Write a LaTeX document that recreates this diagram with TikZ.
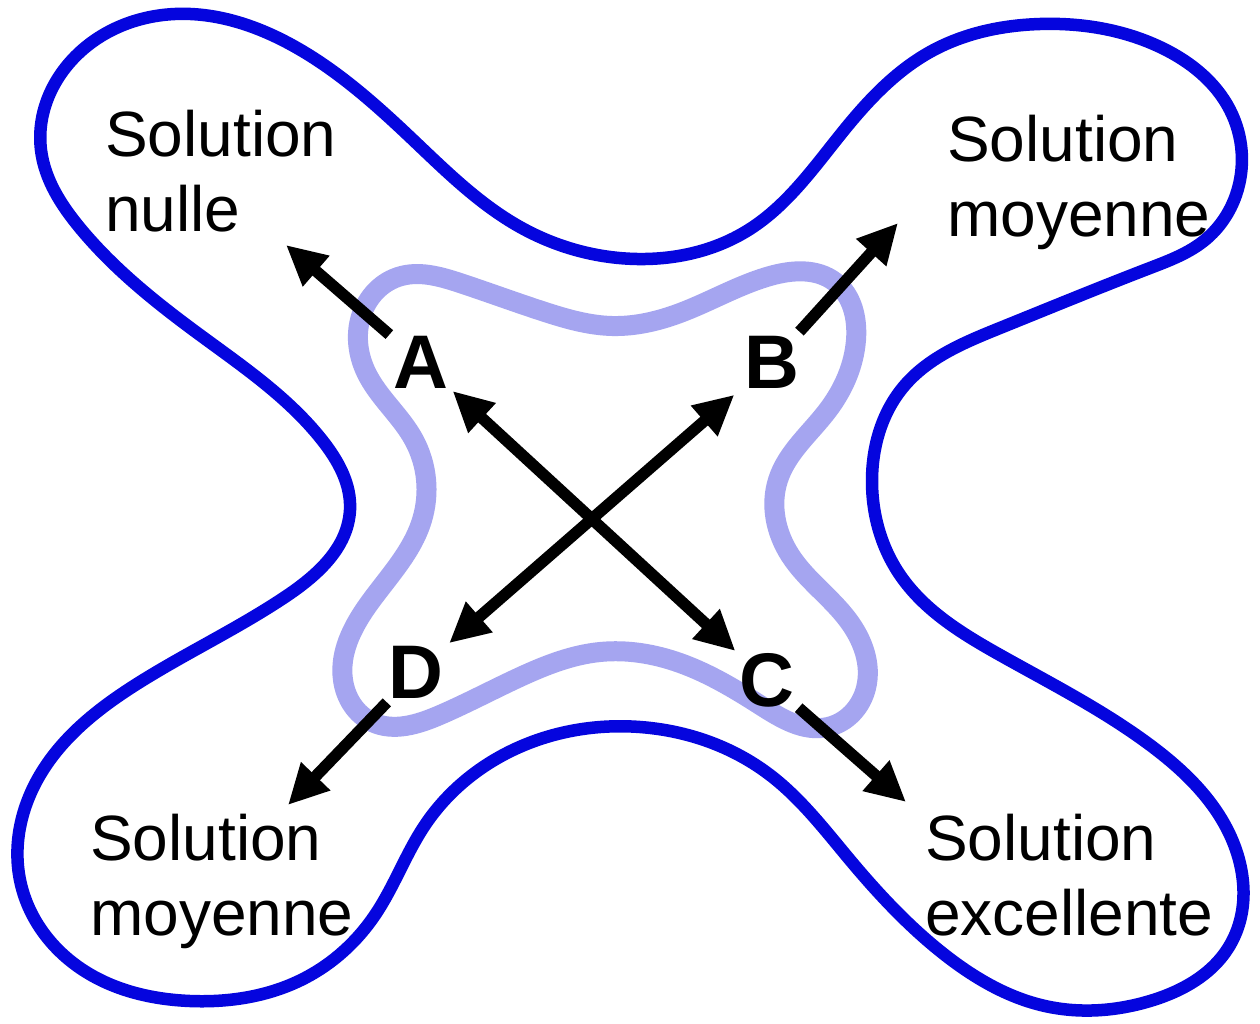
\documentclass[tikz,border=0pt]{standalone}
\usepackage{fontspec}
\setmainfont{Liberation Sans}
\usetikzlibrary{arrows.meta,hobby}
\definecolor{outerblue}{RGB}{5,5,222}
\definecolor{innerblue}{RGB}{165,165,240}
\tikzset{
  outerline/.style={draw=outerblue, line width=12.5pt},
  innerline/.style={draw=innerblue, line width=20pt},
  arr/.style={line width=11.5pt, black, -{Triangle[length=40pt,width=38pt]}},
  dblarr/.style={line width=11.5pt, black, {Triangle[length=40pt,width=38pt]}-{Triangle[length=40pt,width=38pt]}},
  letter/.style={font=\fontsize{76}{80}\selectfont\bfseries, inner sep=4pt},
  lbl/.style={font=\fontsize{64}{75}\selectfont, anchor=base west, inner sep=0pt}
}
\begin{document}
\begin{tikzpicture}[x=1pt,y=-1pt]
\useasboundingbox (0,0) rectangle (1260,1024);
\fill[white] (0,0) rectangle (1260,1024);
% outer blob
\draw[outerline, use Hobby shortcut, closed=true]
 (41,150) .. (80,52) .. (175,14) .. (290,44) .. (410,137) .. (520,227) .. (637,259)
 .. (750,229) .. (845,129) .. (930,52) .. (1040,24) .. (1160,47) .. (1230,110) .. (1236,195)
 .. (1205,240) .. (1150,268) .. (1000,328) .. (905,385) .. (872,480) .. (900,575) .. (1000,655)
 .. (1150,745) .. (1230,835) .. (1230,945) .. (1150,1001) .. (1045,1006) .. (945,955) .. (850,860)
 .. (770,775) .. (640,727) .. (505,754) .. (425,825) .. (375,915) .. (305,978) .. (190,1001)
 .. (80,968) .. (20,880) .. (40,775) .. (140,682) .. (285,597) .. (350,510) .. (322,440)
 .. (200,335) .. (80,228);
% inner blob
\draw[innerline, use Hobby shortcut, closed=true]
 (360,320) .. (398,277) .. (460,283) .. (545,312) .. (612,326) .. (680,313) .. (770,276)
 .. (835,282) .. (856,340) .. (828,410) .. (778,480) .. (790,555) .. (848,620) .. (866,688)
 .. (828,727) .. (760,705) .. (680,663) .. (600,652) .. (520,677) .. (440,715) .. (372,722)
 .. (343,680) .. (368,605) .. (422,520) .. (414,440) .. (366,372);
% letters
\node[letter] (A) at (421,362) {A};
\node[letter] (B) at (772,362) {B};
\node[letter] (C) at (767,680) {C};
\node[letter] (D) at (416,672) {D};
% free ends
\coordinate (tA) at (286,245);
\coordinate (tB) at (898,223);
\coordinate (tC) at (906,802);
\coordinate (tD) at (288,805);
% arrows
\draw[dblarr] (A) -- (C);
\draw[dblarr, shorten <=8pt, shorten >=2pt] (B) -- (D);
\draw[arr] (A) -- (tA);
\draw[arr] (B) -- (tB);
\draw[arr] (C) -- (tC);
\draw[arr] (D) -- (tD);
% labels
\node[lbl] (tl1) at (105,157) {Solution};
\node[lbl] (tl2) at (105,232) {nulle};
\node[lbl] (tr1) at (947,162) {Solution};
\node[lbl] (tr2) at (947,237) {moyenne};
\node[lbl] (bl1) at (90,860) {Solution};
\node[lbl] (bl2) at (90,935) {moyenne};
\node[lbl] (br1) at (925,860) {Solution};
\node[lbl] (br2) at (925,935) {excellente};
\end{tikzpicture}
\end{document}
